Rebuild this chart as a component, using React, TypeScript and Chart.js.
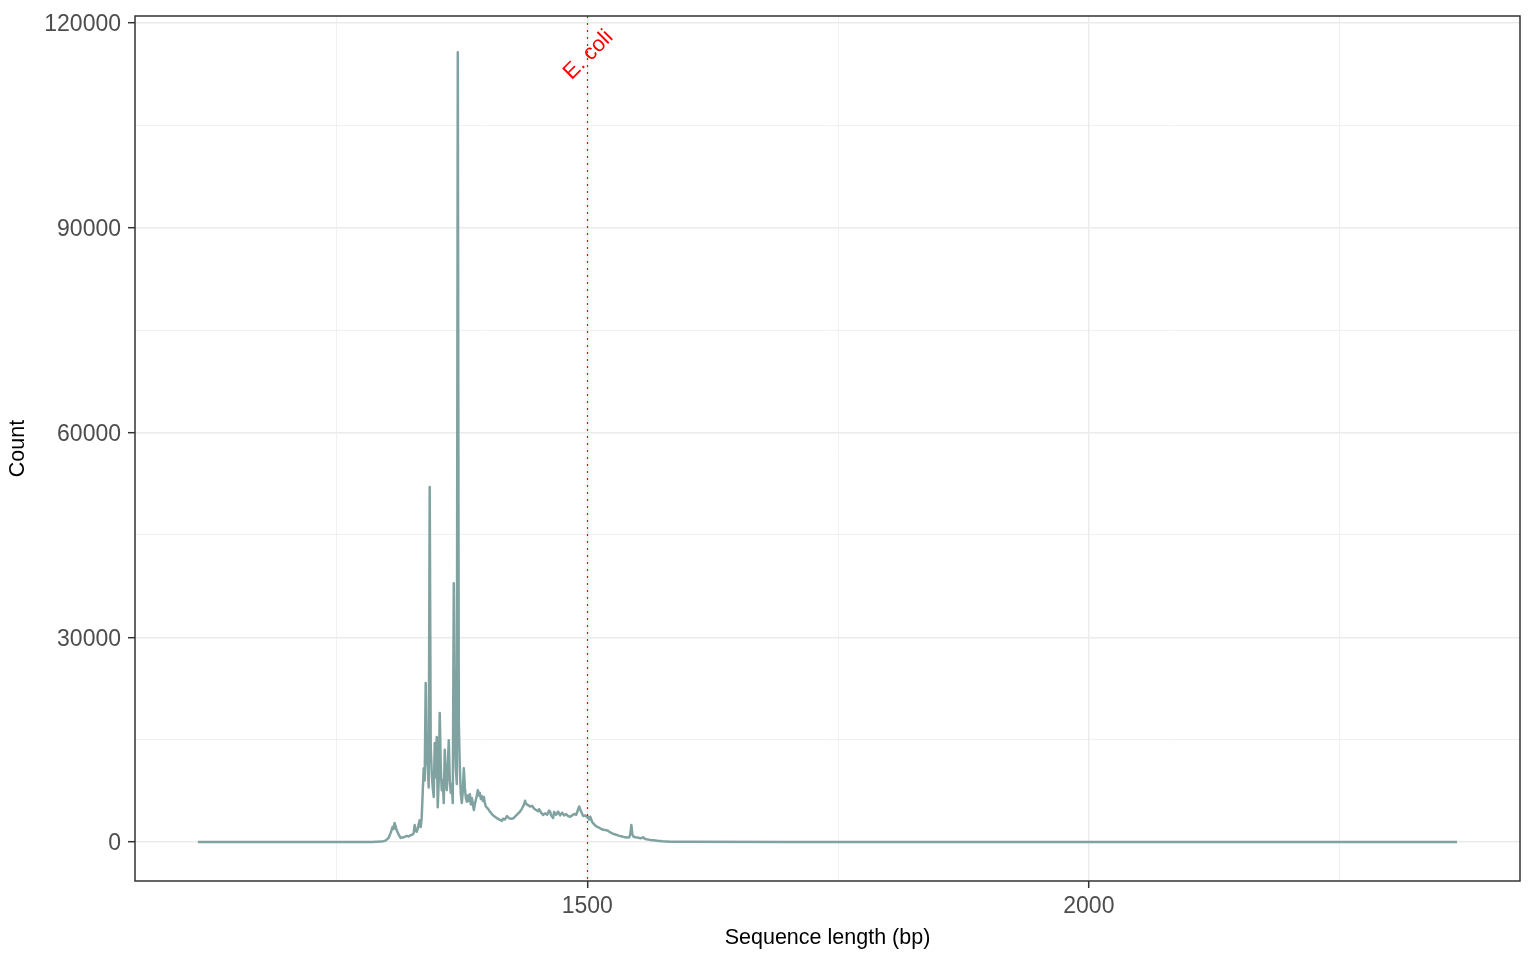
import React, { useEffect, useRef } from "react";
import { Chart, registerables } from "chart.js";

Chart.register(...registerables);

// Sequence length (bp)
const lengths: number[] = [
  1112, 1200, 1285, 1295, 1299, 1302, 1304, 1306, 1307, 1308, 1309, 1310, 1312, 1314, 1316, 1318,
  1320, 1322, 1324, 1326, 1327, 1328, 1329, 1330, 1331, 1332, 1333, 1334, 1335, 1336, 1337, 1338,
  1339, 1340, 1341, 1342, 1343, 1344, 1345, 1346, 1347, 1348, 1349, 1350, 1351, 1352, 1353, 1354,
  1355, 1356, 1357, 1358, 1359, 1360, 1361, 1362, 1363, 1364, 1365, 1366, 1367, 1368, 1369, 1370,
  1371, 1372, 1373, 1374, 1375, 1376, 1377, 1378, 1379, 1380, 1381, 1382, 1383, 1384, 1385, 1386,
  1387, 1388, 1389, 1390, 1391, 1392, 1393, 1394, 1395, 1396, 1397, 1398, 1399, 1401, 1403, 1405,
  1407, 1409, 1410, 1412, 1414, 1415, 1416, 1418, 1420, 1422, 1424, 1426, 1428, 1430, 1432, 1433,
  1435, 1437, 1438, 1439, 1441, 1443, 1445, 1447, 1449, 1451, 1452, 1454, 1456, 1458, 1460, 1462,
  1463, 1464, 1466, 1467, 1469, 1471, 1473, 1475, 1477, 1479, 1481, 1483, 1485, 1487, 1489, 1490,
  1492, 1493, 1495, 1496, 1498, 1500, 1501, 1502, 1503, 1505, 1507, 1509, 1510, 1512, 1514, 1516,
  1518, 1520, 1522, 1524, 1526, 1528, 1530, 1532, 1534, 1536, 1538, 1540, 1542, 1543, 1544, 1545,
  1546, 1548, 1550, 1552, 1554, 1556, 1557, 1559, 1561, 1563, 1566, 1570, 1575, 1583, 1600, 1700,
  1800, 2000, 2367,
];

// Count of reads at each length
const counts: number[] = [
  0, 0, 0, 60, 200, 600, 1300, 2200, 1900, 2800, 2300, 1750, 1100, 600, 650, 750,
  900, 800, 1000, 1100, 1300, 2500, 1600, 1500, 1900, 2600, 3200, 2200, 3500, 7200, 10800, 9000,
  23300, 12000, 11000, 8000, 52000, 14000, 10100, 8000, 6600, 14500, 9500, 15400, 5100, 9000, 18900, 11000,
  7600, 9000, 5700, 13500, 9500, 7600, 11000, 14900, 9000, 7200, 8500, 5700, 37900, 17000, 11000, 8500,
  115700, 17500, 11000, 7000, 5700, 7500, 10800, 8000, 6500, 5900, 6800, 6000, 7000, 5500, 6450, 5600,
  4700, 5500, 6200, 6800, 7600, 6800, 7200, 6300, 6700, 6000, 6600, 5700, 5200, 4900, 4450, 4100,
  3800, 3600, 3500, 3300, 3200, 3100, 3400, 3300, 3800, 3500, 3400, 3450, 3700, 4000, 4300, 4450,
  4900, 5500, 6050, 5600, 5400, 5200, 5300, 4900, 4700, 4500, 4800, 4300, 3950, 4200, 4000, 4600,
  4450, 3900, 3500, 4400, 4000, 4450, 3900, 4300, 3900, 4100, 3800, 3700, 3900, 4100, 4000, 4400,
  5200, 4800, 4100, 3800, 3900, 3600, 3700, 3300, 3700, 2900, 2600, 2300, 2200, 2100, 1900, 1800,
  1750, 1700, 1500, 1350, 1200, 1100, 1000, 900, 850, 750, 700, 650, 700, 1200, 2500, 1100,
  800, 700, 650, 600, 550, 700, 500, 400, 350, 300, 250, 170, 100, 50, 25, 10,
  5, 0, 0,
];

const xTicks: number[] = [1250, 1500, 1750, 2000, 2250];
const xLabelTicks: number[] = [1500, 2000];
const yTicks: number[] = [0, 15000, 30000, 45000, 60000, 75000, 90000, 105000, 120000];
const yLabelTicks: number[] = [0, 30000, 60000, 90000, 120000];
const refLength = 1500;
const refLabel = "E. coli";
const xTitle = "Sequence length (bp)";
const yTitle = "Count";

const FONT = "'Liberation Sans', Arial, Helvetica, sans-serif";

export default function App() {
  const canvasRef = useRef<HTMLCanvasElement | null>(null);

  useEffect(() => {
    const canvas = canvasRef.current;
    if (!canvas) return;

    const overlay = {
      id: "overlay",
      afterDatasetsDraw(chart: any) {
        const { ctx, chartArea, scales } = chart;
        const xs = scales.x;
        const px = Math.round(xs.getPixelForValue(refLength)) + 0.5;
        ctx.save();
        ctx.beginPath();
        ctx.rect(chartArea.left, chartArea.top, chartArea.right - chartArea.left, chartArea.bottom - chartArea.top);
        ctx.clip();
        ctx.strokeStyle = "#FF0000";
        ctx.lineWidth = 1.2;
        ctx.setLineDash([2, 5]);
        ctx.beginPath();
        ctx.moveTo(px, chartArea.top);
        ctx.lineTo(px, chartArea.bottom);
        ctx.stroke();
        ctx.restore();

        ctx.save();
        ctx.translate(px + 1, 55);
        ctx.rotate(-Math.PI / 4);
        ctx.fillStyle = "#FF0000";
        ctx.font = `22px ${FONT}`;
        ctx.textAlign = "center";
        ctx.textBaseline = "middle";
        ctx.fillText(refLabel, 0, 0);
        ctx.restore();
      },
      afterDraw(chart: any) {
        const { ctx, chartArea } = chart;
        ctx.save();
        ctx.strokeStyle = "#333333";
        ctx.lineWidth = 1.5;
        ctx.strokeRect(chartArea.left, chartArea.top, chartArea.right - chartArea.left, chartArea.bottom - chartArea.top);

        ctx.fillStyle = "#000000";
        ctx.font = `21.5px ${FONT}`;
        ctx.textAlign = "center";
        ctx.textBaseline = "middle";
        ctx.fillText(xTitle, (chartArea.left + chartArea.right) / 2, 938);

        ctx.translate(18, (chartArea.top + chartArea.bottom) / 2);
        ctx.rotate(-Math.PI / 2);
        ctx.fillText(yTitle, 0, 0);
        ctx.restore();
      },
    };

    const isMajorX = (v: number) => xLabelTicks.includes(v);
    const isMajorY = (v: number) => yLabelTicks.includes(v);

    const chart = new Chart(canvas, {
      type: "line",
      data: {
        datasets: [
          {
            data: lengths.map((l, i) => ({ x: l, y: counts[i] })),
            borderColor: "#80A3A1",
            borderWidth: 2.5,
            pointRadius: 0,
            tension: 0,
            fill: false,
            borderJoinStyle: "round",
          },
        ],
      },
      options: {
        animation: false,
        responsive: false,
        maintainAspectRatio: false,
        layout: { padding: { top: 16, right: 16, left: 0, bottom: 0 } },
        plugins: { legend: { display: false }, tooltip: { enabled: false } },
        scales: {
          x: {
            type: "linear",
            min: 1049.25,
            max: 2429.75,
            afterBuildTicks: (scale: any) => {
              scale.ticks = xTicks.map((v) => ({ value: v }));
            },
            afterFit: (scale: any) => {
              scale.height = 79;
              scale.paddingLeft = 0;
              scale.paddingRight = 0;
            },
            border: { display: false },
            grid: {
              color: "#EBEBEB",
              lineWidth: (c: any) => (c.tick && isMajorX(c.tick.value) ? 1.4 : 0.7),
              tickColor: (c: any) => (c.tick && isMajorX(c.tick.value) ? "#333333" : "rgba(0,0,0,0)"),
              tickLength: 7,
              tickWidth: 1.5,
            },
            ticks: {
              autoSkip: false,
              maxRotation: 0,
              padding: 5,
              color: "#4D4D4D",
              font: { family: FONT, size: 23 },
              callback: (v: any) => (isMajorX(Number(v)) ? String(v) : ""),
            },
          },
          y: {
            type: "linear",
            min: -5714,
            max: 121026,
            afterBuildTicks: (scale: any) => {
              scale.ticks = yTicks.map((v) => ({ value: v }));
            },
            afterFit: (scale: any) => {
              scale.width = 135;
              scale.paddingTop = 0;
              scale.paddingBottom = 0;
            },
            border: { display: false },
            grid: {
              color: "#EBEBEB",
              lineWidth: (c: any) => (c.tick && isMajorY(c.tick.value) ? 1.4 : 0.7),
              tickColor: (c: any) => (c.tick && isMajorY(c.tick.value) ? "#333333" : "rgba(0,0,0,0)"),
              tickLength: 7,
              tickWidth: 1.5,
            },
            ticks: {
              autoSkip: false,
              padding: 7,
              labelOffset: 2,
              color: "#4D4D4D",
              font: { family: FONT, size: 23 },
              callback: (v: any) => (isMajorY(Number(v)) ? String(v) : ""),
            },
          },
        },
      },
      plugins: [overlay],
    } as any);

    return () => chart.destroy();
  }, []);

  return (
    <div style={{ position: "fixed", left: 0, top: 0, width: 1536, height: 960, background: "#FFFFFF" }}>
      <canvas ref={canvasRef} width={1536} height={960} style={{ width: 1536, height: 960, display: "block" }} />
    </div>
  );
}
